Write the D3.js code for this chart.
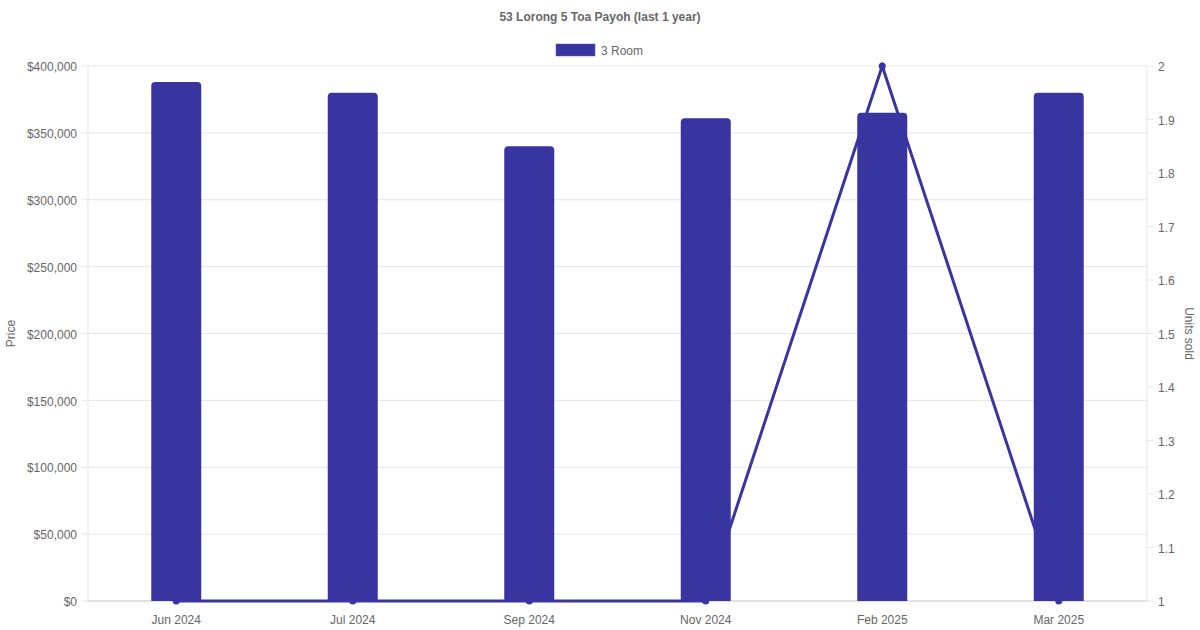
<!DOCTYPE html>
<html><head><meta charset="utf-8">
<script src="https://cdn.jsdelivr.net/npm/d3@7"></script>
<style>body{margin:0;background:#fff}svg{display:block;font-family:"Liberation Sans",Arial,sans-serif}</style>
</head><body>
<svg id="c" width="1200" height="630"></svg>
<script>
const categories = ["Jun 2024","Jul 2024","Sep 2024","Nov 2024","Feb 2025","Mar 2025"];
const prices = [388000, 380000, 340000, 361000, 365000, 380000];
const unitsSold = [1, 1, 1, 1, 2, 1];
const priceTicks = [0,50000,100000,150000,200000,250000,300000,350000,400000];
const unitTicks = [1,1.1,1.2,1.3,1.4,1.5,1.6,1.7,1.8,1.9,2];
const title = "53 Lorong 5 Toa Payoh (last 1 year)";
const seriesName = "3 Room";
const color = "#3935a0";

const svg = d3.select("#c");
const L=88, R=1147, T=66, B=601;
const x = d3.scaleBand().domain(categories).range([L,R]);
const yP = d3.scaleLinear().domain([0,400000]).range([B,T]);
const yU = d3.scaleLinear().domain([1,2]).range([B,T]);
const txt="#666", grid="#e5e5e5";

svg.append("g").selectAll("line").data(priceTicks).join("line")
  .attr("x1",L-6).attr("x2",R).attr("y1",d=>yP(d)).attr("y2",d=>yP(d))
  .attr("stroke",grid).attr("stroke-width",1);
svg.append("line").attr("x1",L).attr("x2",L).attr("y1",T).attr("y2",B).attr("stroke",grid);
svg.append("line").attr("x1",R).attr("x2",R).attr("y1",T).attr("y2",B).attr("stroke",grid);
svg.append("line").attr("x1",L).attr("x2",R).attr("y1",B).attr("y2",B).attr("stroke","#d0d0d0");
svg.append("g").selectAll("line").data(unitTicks).join("line")
  .attr("x1",R).attr("x2",R+6).attr("y1",d=>yU(d)).attr("y2",d=>yU(d)).attr("stroke",grid);

svg.append("g").selectAll("text").data(priceTicks).join("text")
  .attr("x",L-11).attr("y",d=>yP(d)+1).attr("dy","0.35em").attr("text-anchor","end")
  .attr("font-size",12).attr("fill",txt).text(d=>"$"+d3.format(",")(d));
svg.append("g").selectAll("text").data(unitTicks).join("text")
  .attr("x",R+11).attr("y",d=>yU(d)+1).attr("dy","0.35em").attr("text-anchor","start")
  .attr("font-size",12).attr("fill",txt).text(d=>d3.format("~g")(d));
svg.append("g").selectAll("text").data(categories).join("text")
  .attr("x",d=>x(d)+x.bandwidth()/2).attr("y",B+23).attr("text-anchor","middle")
  .attr("font-size",12).attr("fill",txt).text(d=>d);

svg.append("text").attr("transform",`translate(15,${(T+B)/2}) rotate(-90)`).attr("text-anchor","middle")
  .attr("font-size",12).attr("fill",txt).text("Price");
svg.append("text").attr("transform",`translate(1185,${(T+B)/2}) rotate(90)`).attr("text-anchor","middle")
  .attr("font-size",12).attr("fill",txt).text("Units sold");

svg.append("text").attr("x",600).attr("y",21).attr("text-anchor","middle").attr("font-size",12)
  .attr("font-weight","bold").attr("fill",txt).text(title);
svg.append("rect").attr("x",556).attr("y",44).attr("width",39).attr("height",12).attr("fill",color)
  .attr("stroke","#5a56b8").attr("stroke-width",0.5);
svg.append("text").attr("x",601).attr("y",54.5).attr("font-size",12).attr("fill",txt).text(seriesName);

const cx = d=>x(d)+x.bandwidth()/2;
const line = d3.line().x((d,i)=>cx(categories[i])).y(d=>yU(d));
svg.append("path").datum(unitsSold).attr("d",line).attr("fill","none").attr("stroke",color).attr("stroke-width",3);
svg.append("g").selectAll("circle").data(unitsSold).join("circle")
  .attr("cx",(d,i)=>cx(categories[i])).attr("cy",d=>yU(d)).attr("r",3.5).attr("fill",color);

const bw = 50, r = 4;
svg.append("g").selectAll("path").data(prices).join("path")
  .attr("d",(d,i)=>{
    const x0=cx(categories[i])-bw/2, x1=x0+bw, y0=yP(d), yb=yP(0);
    return `M${x0},${yb}V${y0+r}Q${x0},${y0} ${x0+r},${y0}H${x1-r}Q${x1},${y0} ${x1},${y0+r}V${yb}Z`;
  }).attr("fill",color);
</script>
</body></html>
